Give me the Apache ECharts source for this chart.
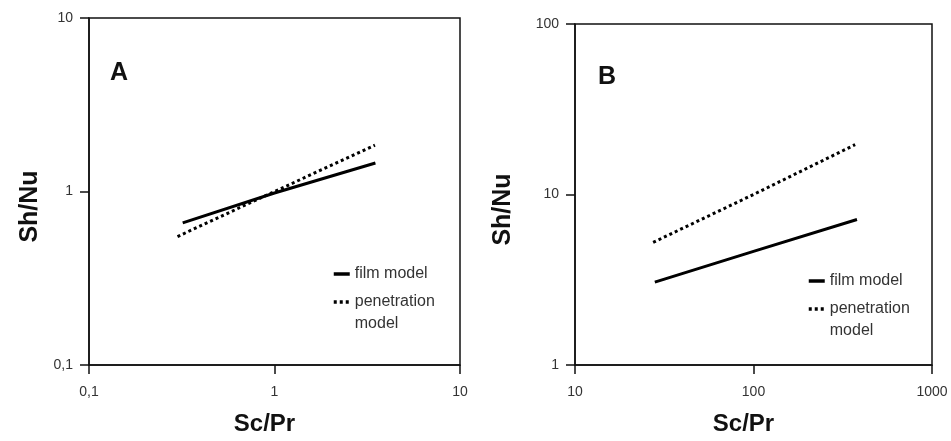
<!DOCTYPE html>
<html>
<head>
<meta charset="utf-8">
<script src="https://cdn.jsdelivr.net/npm/echarts@6/dist/echarts.min.js"></script>
<style>
html,body{margin:0;padding:0;background:#fff;}
#chart{width:951px;height:441px;}
</style>
</head>
<body>
<div id="chart"></div>
<script>
// ---- data ----
const panelLabels = ['A', 'B'];
const seriesNames = ['film model', 'penetration model'];

// Panel A
const xTicksA = ['0,1', '1', '10'];
const yTicksA = ['0,1', '1', '10'];
const filmA_x = [0.32, 1, 3.5];
const filmA_y = [0.66, 0.98, 1.46];
const penA_x = [0.30, 1, 3.48];
const penA_y = [0.55, 1.0, 1.85];

// Panel B
const xTicksB = ['10', '100', '1000'];
const yTicksB = ['1', '10', '100'];
const filmB_x = [28, 100, 380];
const filmB_y = [3.06, 4.64, 7.14];
const penB_x = [27.4, 100, 371];
const penB_y = [5.24, 10.0, 19.6];

const FONT = "Arial, 'Liberation Sans', sans-serif";
const zip = (xs, ys) => xs.map((x, i) => [x, ys[i]]);

function tickFormatter(ticks, minExp) {
  return function (v) {
    const e = Math.round(Math.log10(v));
    const lbl = ticks[e - minExp];
    return lbl === undefined ? '' : lbl;
  };
}

function xAxis(gridIndex, min, max, ticks, minExp, namePad) {
  return {
    type: 'log', logBase: 10, gridIndex, min, max,
    name: 'Sc/Pr', nameLocation: 'middle', nameGap: 47,
    nameTextStyle: { fontFamily: FONT, fontWeight: 'bold', fontSize: 24, color: '#111', padding: namePad },
    axisLine: { show: true, lineStyle: { color: '#111', width: 1.5 } },
    axisTick: { show: true, inside: false, length: 9, lineStyle: { color: '#111', width: 1.5 } },
    minorTick: { show: false },
    splitLine: { show: false },
    axisLabel: { fontFamily: FONT, fontSize: 14, color: '#333', margin: 20, formatter: tickFormatter(ticks, minExp) }
  };
}

function yAxis(gridIndex, min, max, ticks, minExp, nameGap) {
  return {
    type: 'log', logBase: 10, gridIndex, min, max,
    name: 'Sh/Nu', nameLocation: 'middle', nameGap,
    nameTextStyle: { fontFamily: FONT, fontWeight: 'bold', fontSize: 25, color: '#111', padding: [0, 30, 0, 0] },
    axisLine: { show: true, lineStyle: { color: '#111', width: 1.5 } },
    axisTick: { show: true, inside: false, length: 9, lineStyle: { color: '#111', width: 1.5 } },
    minorTick: { show: false },
    splitLine: { show: false },
    axisLabel: { fontFamily: FONT, fontSize: 14, color: '#333', margin: 16, formatter: tickFormatter(ticks, minExp) }
  };
}

function series(name, data, xi, dashed) {
  return {
    name, type: 'line', xAxisIndex: xi, yAxisIndex: xi,
    data, symbol: 'none', showSymbol: false, silent: true, animation: false,
    lineStyle: { color: '#000', width: 3, type: dashed ? [3, 3] : 'solid', cap: 'butt' },
    itemStyle: { color: '#000' }
  };
}

function legend(left, top) {
  return {
    orient: 'vertical', left, top, padding: 0,
    itemWidth: 16, itemHeight: 2, itemGap: -16, itemTextGap: 5,
    selectedMode: false,
    itemStyle: { opacity: 0 },
    lineStyle: { width: 3.5 },
    textStyle: { fontFamily: FONT, fontSize: 16, color: '#333', lineHeight: 22 },
    data: [ { name: seriesNames[0] }, { name: seriesNames[1] } ],
    // leading empty line keeps the icon level with the first text line
    formatter: n => n === 'penetration model' ? '\npenetration\nmodel' : n
  };
}

const chart = echarts.init(document.getElementById('chart'), null, { renderer: 'canvas' });
chart.setOption({
  animation: false,
  backgroundColor: '#fff',
  title: [
    { text: panelLabels[0], left: 110, top: 61, padding: 0, textStyle: { fontFamily: FONT, fontWeight: 'bold', fontSize: 25, color: '#111' } },
    { text: panelLabels[1], left: 598, top: 65, padding: 0, textStyle: { fontFamily: FONT, fontWeight: 'bold', fontSize: 25, color: '#111' } }
  ],
  grid: [
    { left: 89, top: 18, width: 371, height: 348, show: true, borderColor: '#111', borderWidth: 1.5, containLabel: false },
    { left: 575, top: 24, width: 357, height: 342, show: true, borderColor: '#111', borderWidth: 1.5, containLabel: false }
  ],
  xAxis: [
    xAxis(0, 0.1, 10, xTicksA, -1, [0, 20, 0, 0]),
    xAxis(1, 10, 1000, xTicksB, 1, [0, 20, 0, 0])
  ],
  yAxis: [
    yAxis(0, 0.1, 10, yTicksA, -1, 46),
    yAxis(1, 1, 100, yTicksB, 0, 59)
  ],
  legend: [legend(332, 263), legend(807, 270)],
  series: [
    series(seriesNames[0], zip(filmA_x, filmA_y), 0, false),
    series(seriesNames[1], zip(penA_x, penA_y), 0, true),
    series(seriesNames[0], zip(filmB_x, filmB_y), 1, false),
    series(seriesNames[1], zip(penB_x, penB_y), 1, true)
  ]
});
</script>
</body>
</html>
